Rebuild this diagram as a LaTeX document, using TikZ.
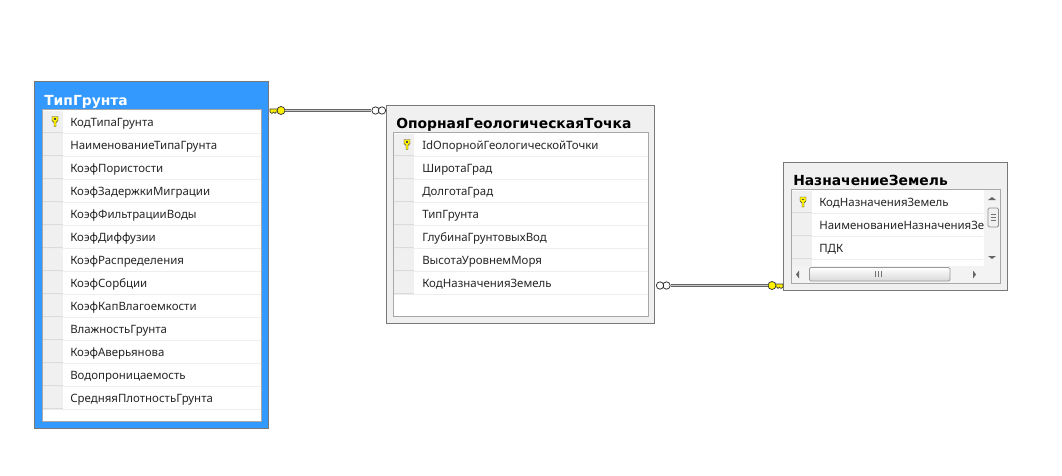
\documentclass[tikz,border=0pt]{standalone}
\usepackage{fontspec}
\setmainfont{Noto Sans}
\newfontfamily\titlefont{DejaVu Sans}
\usetikzlibrary{calc}
\definecolor{blueb}{HTML}{3399FF}
\definecolor{panel}{HTML}{F0F0F0}
\definecolor{edge}{HTML}{787878}
\definecolor{inedge}{HTML}{A8A8A8}
\definecolor{sepl}{HTML}{EEEEEE}
\definecolor{keyy}{HTML}{FFF200}
\definecolor{sbar}{HTML}{F3F3F3}
\tikzset{
  x=0.75pt,y=-0.75pt,
  outerbox/.style={draw=edge,line width=0.65pt,fill=panel},
  activebox/.style={draw=edge,line width=0.65pt,fill=blueb},
  innerbox/.style={draw=inedge,line width=0.7pt,fill=white},
  title/.style={anchor=base west,inner sep=0pt,font=\titlefont\bfseries\fontsize{10.4}{12}\selectfont},
  rowtext/.style={anchor=base west,inner sep=0pt,font=\fontsize{8.6}{10}\selectfont,text=black!85},
  keyhead/.style={circle,draw=black!80,fill=keyy,line width=0.55pt,minimum size=6pt,inner sep=0pt},
  crow/.style={circle,draw=black!85,fill=white,line width=0.55pt,minimum size=5.5pt,inner sep=0pt},
  relation/.style={double=white!55!gray,draw=gray!80!black,line width=0.55pt,double distance=1.1pt},
  sarrow/.style={fill=black!60,draw=none},
}
\newcommand{\minikey}[2]{% x y : small vertical key icon
  \fill[keyy,draw=black!75,line width=0.35pt] (#1-3,#2-5) -- (#1+3,#2-5) -- (#1+3,#2-1) -- (#1+1,#2+1) -- (#1+1,#2+5) -- (#1-1,#2+5) -- (#1-1,#2+1) -- (#1-3,#2-1) -- cycle;
  \fill[black!70] (#1-1,#2-3.5) rectangle (#1+1,#2-2);
}
\newcommand{\rowbar}[4]{% left, right(of seps), top of row, right of handle
  \fill[panel] (#1,#3+1) rectangle (#4,#3+22);
  \draw[black!14,line width=0.5pt] (#1,#3+22) -- (#4,#3+22);
  \draw[sepl,line width=0.6pt] (#1,#3+23) -- (#2,#3+23);
}
\newcommand{\sideteeth}[3]{% x y direction : key teeth
  \fill[keyy,draw=black!80,line width=0.45pt] (#1,#2-1.5) -- (#1+#3*8,#2-1.5) -- (#1+#3*8,#2+1.5) -- (#1+#3*6,#2+1.5) -- (#1+#3*5,#2+3) -- (#1+#3*3.5,#2+1.5) -- (#1+#3*2,#2+3) -- (#1,#2+1.5) -- cycle;
}
\begin{document}
\begin{tikzpicture}
\useasboundingbox (0,0) rectangle (1062,475);
\fill[white] (0,0) rectangle (1062,475);

% ---- Table 1
\draw[activebox] (34.5,81.5) rectangle (268.5,428.5);
\draw[innerbox] (42,109) rectangle (261,421.5);
\node[title,text=white] (t1) at (44,105.5) {ТипГрунта};
\foreach \i/\t in {0/КодТипаГрунта,1/НаименованиеТипаГрунта,2/КоэфПористости,3/КоэфЗадержкиМиграции,4/КоэфФильтрацииВоды,5/КоэфДиффузии,6/КоэфРаспределения,7/КоэфСорбции,8/КоэфКапВлагоемкости,9/ВлажностьГрунта,10/КоэфАверьянова,11/Водопроницаемость,12/СредняяПлотностьГрунта}{
  \rowbar{43}{260.5}{110+23*\i}{63}
  \node[rowtext] (a\i) at (70,126+23*\i) {\t};
}
\minikey{55}{121.5}

% ---- Table 2
\draw[outerbox] (386.8,105) rectangle (654,323);
\draw[innerbox] (393,132) rectangle (648,316.5);
\node[title,text=black] (t2) at (396,128.5) {ОпорнаяГеологическаяТочка};
\foreach \i/\t in {0/IdОпорнойГеологическойТочки,1/ШиротаГрад,2/ДолготаГрад,3/ТипГрунта,4/ГлубинаГрунтовыхВод,5/ВысотаУровнемМоря,6/КодНазначенияЗемель}{
  \rowbar{394}{647.5}{133+23*\i}{414}
  \node[rowtext] (b\i) at (422,149+23*\i) {\t};
}
\minikey{407}{144.5}

% ---- Table 3
\draw[outerbox] (783.5,162) rectangle (1007.5,290);
\draw[innerbox] (791,189.5) rectangle (1000.5,283.5);
\node[title,text=black] (t3) at (793,185.5) {НазначениеЗемель};
\foreach \i in {0,1,2}{
  \rowbar{792}{983}{190+23*\i}{812}
}
\fill[panel] (792,259.5) rectangle (812,266);
\begin{scope}
  \clip (792,190) rectangle (983,266);
  \node[rowtext] (c0) at (819,206) {КодНазначенияЗемель};
  \node[rowtext] (c1) at (819,229) {НаименованиеНазначенияЗе.};
  \node[rowtext] (c2) at (819,252) {ПДК};
\end{scope}
\minikey{803}{202}
% scrollbars
\fill[sbar] (983.5,190) rectangle (1000,266);
\fill[sbar] (791.5,266) rectangle (1000,283);
\draw[black!45,line width=0.6pt,fill=panel,rounded corners=1pt] (988,208) rectangle (998.5,227);
\draw[black!55,line width=0.5pt] (990.5,214.5) -- (996,214.5) (990.5,217.5) -- (996,217.5) (990.5,220.5) -- (996,220.5);
\draw[black!40,line width=0.6pt,top color=white,bottom color=black!15,rounded corners=1pt] (809.5,267.5) rectangle (950,281);
\draw[black!55,line width=0.5pt] (875.5,271) -- (875.5,277) (878.5,271) -- (878.5,277) (881.5,271) -- (881.5,277);
\fill[sarrow] (992,197) -- (996,200) -- (988,200) -- cycle;
\fill[sarrow] (992,259) -- (996,256) -- (988,256) -- cycle;
\fill[sarrow] (796,274.5) -- (799,270.5) -- (799,278.5) -- cycle;
\fill[sarrow] (976,274.5) -- (973,270.5) -- (973,278.5) -- cycle;

% ---- Relation 1
\sideteeth{270}{110.5}{1}
\node[keyhead] (k1) at (281,110.5) {};
\node[crow] (m1a) at (375.5,110.5) {};
\node[crow] (m1b) at (382,110.5) {};
\draw[relation] (k1) -- (m1a);

% ---- Relation 2
\sideteeth{783}{285.5}{-1}
\node[keyhead] (k2) at (772,285.5) {};
\node[crow] (m2a) at (666.5,285.5) {};
\node[crow] (m2b) at (660,285.5) {};
\draw[relation] (k2) -- (m2a);
\end{tikzpicture}
\end{document}
